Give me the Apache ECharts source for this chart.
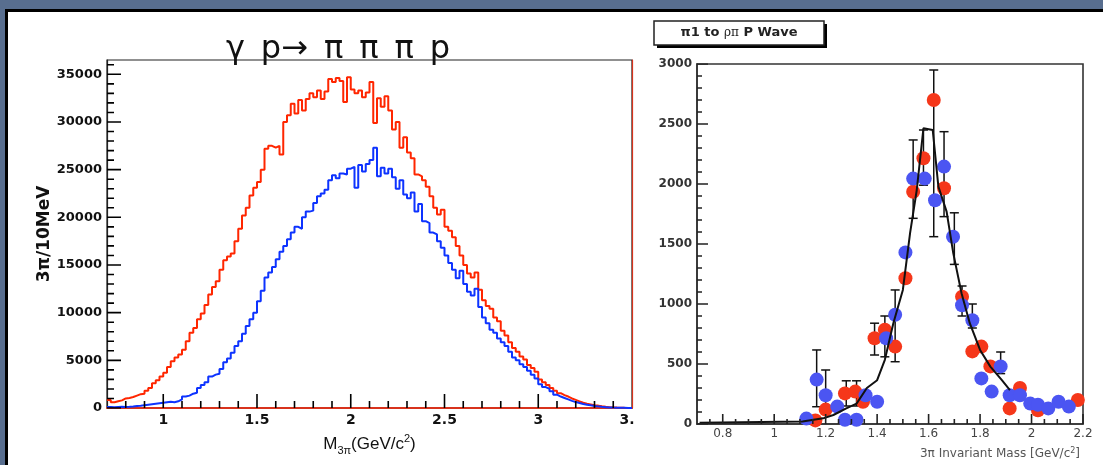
<!doctype html>
<html>
<head>
<meta charset="utf-8">
<title>gamma p -> 3pi p</title>
<script type="text/javascript" src="https://cdn.jsdelivr.net/npm/echarts@6/dist/echarts.min.js"></script>
<style>
    html, body { margin: 0; padding: 0; }
    body { width: 1103px; height: 465px; background: #586e8f; position: relative; overflow: hidden; }
    #panel { position: absolute; left: 5px; top: 9px; right: 0; bottom: 0; background: #fff;
             border-left: 3px solid #000; border-top: 3px solid #000; }
    #container { position: absolute; left: 0; top: 0; width: 1103px; height: 465px; }
</style>
</head>
<body>
<div id="panel"></div>
<div id="container"></div>
<script type="text/javascript">

    /* left: 3pi mass spectrum, 20 MeV bins starting at 0.70 */
    var binStart = 0.70;
    var binWidth = 0.02;
    var redCounts = [
        850, 600, 700, 800, 1000, 1050, 1150, 1300, 1450, 1500,
        1800, 2100, 2600, 2900, 3300, 3700, 4300, 4900, 5300, 5600,
        6100, 7000, 7900, 8400, 9300, 9900, 10800, 11900, 12700, 13300,
        14500, 15500, 15900, 16200, 17500, 18800, 20200, 21000, 22300, 23100,
        23700, 25000, 27200, 27500, 27300, 27500, 26600, 30000, 30700, 31900,
        30900, 32300, 31200, 32400, 33000, 32600, 33300, 32400, 33200, 34500,
        34200, 34600, 34300, 32100, 34700, 33400, 33000, 33300, 32600, 33100,
        34200, 29900, 32500, 31600, 32700, 31200, 29200, 30000, 27300, 28400,
        26800, 26200, 24500, 24300, 23900, 23200, 22200, 21000, 20300, 20800,
        19000, 18600, 17900, 17000, 16000, 15000, 14100, 13700, 14200, 12400,
        11300, 10700, 10400, 9500, 9100, 8100, 7600, 6900, 6300, 5900,
        5400, 5100, 4500, 4200, 3800, 3000, 2700, 2400, 2100, 1800,
        1550, 1350, 1200, 1000, 850, 700, 550, 450, 380, 300,
        250, 180, 120, 90, 60, 40, 25, 15, 10, 5
    ];
    var blueCounts = [
        100, 80, 100, 120, 100, 120, 150, 200, 230, 300,
        350, 400, 450, 500, 550, 600, 650, 600, 700, 900,
        1200, 1300, 1500, 1600, 2100, 2400, 2700, 3300, 3500, 3600,
        4100, 4800, 5200, 5800, 6500, 7000, 7800, 8600, 9300, 10000,
        11200, 12300, 13700, 14200, 14800, 15600, 16400, 17000, 17700, 18400,
        19000, 18800, 20000, 20600, 20700, 21500, 22200, 22500, 22900, 23900,
        24400, 24100, 24600, 24500, 25100, 25300, 23100, 25500, 24800, 25600,
        26000, 27300, 24300, 25200, 24600, 25100, 24200, 23000, 23900, 22400,
        22000, 22600, 20600, 21400, 19600, 19400, 18400, 18200, 17500, 16800,
        16000, 15200, 14500, 13600, 14400, 13000, 12200, 11800, 12500, 10600,
        9500, 8900, 8200, 7900, 7300, 6900, 6500, 5900, 5300, 5000,
        4600, 4300, 3900, 3500, 3100, 2500, 2200, 2000, 1750, 1400,
        1200, 1050, 900, 750, 620, 520, 420, 350, 280, 220,
        170, 120, 90, 60, 40, 30, 20, 15, 10, 5
    ];
    var massLabels = [1, 1.5, 2, 2.5, 3, 3.5];
    var massMajor = [1, 1.5, 2, 2.5, 3];
    var massMinor = [0.8, 0.9, 1.1, 1.2, 1.3, 1.4, 1.6, 1.7, 1.8, 1.9, 2.1, 2.2, 2.3, 2.4,
                     2.6, 2.7, 2.8, 2.9, 3.1, 3.2, 3.3, 3.4];
    var countLabels = [0, 5000, 10000, 15000, 20000, 25000, 30000, 35000];
    var countMinor = [];
    for (var c = 1000; c <= 36000; c += 1000) { if (c % 5000) countMinor.push(c); }

    /* right: pi1 -> rho pi P wave */
    var redPts = [
        [1.16, 30], [1.20, 120], [1.275, 255], [1.315, 270], [1.345, 185], [1.39, 715],
        [1.43, 785], [1.47, 645], [1.51, 1215], [1.54, 1935], [1.58, 2215], [1.62, 2700],
        [1.66, 1965], [1.73, 1060], [1.77, 605], [1.805, 645], [1.84, 480], [1.915, 130],
        [1.955, 300], [2.025, 115], [2.18, 200]
    ];
    var bluePts = [
        [1.125, 45], [1.165, 370], [1.20, 240], [1.245, 145], [1.275, 35], [1.32, 35],
        [1.355, 240], [1.40, 185], [1.435, 715], [1.47, 910], [1.51, 1430], [1.54, 2045],
        [1.585, 2045], [1.625, 1865], [1.66, 2145], [1.695, 1560], [1.73, 990], [1.77, 865],
        [1.805, 380], [1.845, 270], [1.88, 480], [1.915, 240], [1.955, 240], [1.995, 170],
        [2.025, 160], [2.065, 130], [2.105, 185], [2.145, 145]
    ];
    var errBars = [
        [1.165, 144, 617], [1.20, 100, 450], [1.28, 150, 360], [1.32, 150, 360],
        [1.39, 575, 840], [1.43, 560, 900], [1.47, 519, 1117], [1.54, 1714, 2367],
        [1.58, 1990, 2450], [1.62, 1561, 2950], [1.66, 1728, 2436], [1.70, 1330, 1760],
        [1.73, 900, 1150], [1.77, 800, 1000], [1.88, 420, 600]
    ];
    var fitCurve = [
        [0.71, 10], [1.11, 20], [1.19, 47], [1.23, 75], [1.28, 130], [1.32, 170],
        [1.36, 300], [1.40, 365], [1.43, 535], [1.463, 840], [1.50, 1117], [1.528, 1590],
        [1.554, 1950], [1.58, 2465], [1.616, 2450], [1.638, 1978], [1.67, 1770], [1.696, 1422],
        [1.728, 1090], [1.76, 840], [1.80, 617], [1.84, 478], [1.884, 367], [1.916, 283]
    ];
    var waveLabels = [0.8, 1, 1.2, 1.4, 1.6, 1.8, 2, 2.2];
    var waveMinor = [0.75, 0.85, 0.9, 0.95, 1.05, 1.1, 1.15, 1.25, 1.3, 1.35, 1.45, 1.5, 1.55,
                     1.65, 1.7, 1.75, 1.85, 1.9, 1.95, 2.05, 2.1, 2.15];
    var yieldLabels = [0, 500, 1000, 1500, 2000, 2500, 3000];
    var yieldMinor = [];
    for (var d = 100; d < 3000; d += 100) { if (d % 500) yieldMinor.push(d); }

    function histPoints(counts) {
        var pts = [];
        for (var i = 0; i < counts.length; i++) {
            pts.push([+(binStart + i * binWidth).toFixed(2), counts[i]]);
        }
        pts.push([+(binStart + counts.length * binWidth).toFixed(2), counts[counts.length - 1]]);
        return pts;
    }

    var dom = document.getElementById("container");
    var myChart = echarts.init(dom, null, {renderer: 'canvas'});

    var lblFont = 'DejaVu Sans';
    var plain = function (v) { return String(v); };

    // grid sizes in px, used to turn tick lengths into axis units
    var leftGrid = {left: 107, top: 60, width: 525, height: 348};
    var rightGrid = {left: 697, top: 64, width: 386, height: 360};
    var leftPxX = (3.5 - 0.7) / leftGrid.width, leftPxY = 36500 / leftGrid.height;
    var rightPxX = (2.2 - 0.7) / rightGrid.width, rightPxY = 3000 / rightGrid.height;

    function errItem(params, api) {
        var top = api.coord([api.value(0), api.value(2)]);
        var bot = api.coord([api.value(0), api.value(1)]);
        var st = {stroke: '#111', lineWidth: 1.5};
        return {
            type: 'group',
            children: [
                {type: 'line', shape: {x1: top[0], y1: top[1], x2: bot[0], y2: bot[1]}, style: st},
                {type: 'line', shape: {x1: top[0] - 4.5, y1: top[1], x2: top[0] + 4.5, y2: top[1]}, style: st},
                {type: 'line', shape: {x1: bot[0] - 4.5, y1: bot[1], x2: bot[0] + 4.5, y2: bot[1]}, style: st}
            ]
        };
    }

    // inward ROOT-style ticks as broken line segments on the axes' own scales
    function tickSeries(xi, yi, dim, values, other, len, color) {
        var pts = [];
        values.forEach(function (v) {
            if (dim === 'x') {
                pts.push([v, other], [v, other + len]);
            } else {
                pts.push([other, v], [other + len, v]);
            }
            pts.push(['-', '-']);
        });
        return {
            type: 'line', xAxisIndex: xi, yAxisIndex: yi, data: pts,
            symbol: 'none', silent: true, z: 5, connectNulls: false,
            lineStyle: {color: color, width: 1.6}
        };
    }

    var option = {
        animation: false,
        backgroundColor: 'transparent',
        grid: [
            {left: leftGrid.left, top: leftGrid.top, width: leftGrid.width, height: leftGrid.height,
             show: true, borderColor: '#222', borderWidth: 1.2, backgroundColor: 'transparent'},
            {left: rightGrid.left, top: rightGrid.top, width: rightGrid.width, height: rightGrid.height,
             show: true, borderColor: '#333', borderWidth: 1.6, backgroundColor: 'transparent'}
        ],
        xAxis: [
            {
                gridIndex: 0, type: 'value', min: 0.7, max: 3.5, position: 'bottom',
                axisLine: {show: true, lineStyle: {color: '#d8321c', width: 2}},
                axisTick: {show: false},
                axisLabel: {customValues: massLabels, formatter: plain, margin: 5, fontFamily: lblFont, fontWeight: 'bold', fontSize: 14, color: '#111'},
                splitLine: {show: false},
                name: '{a|M}{s|3π}{a|(GeV/c}{p|2}{a|)}',
                nameLocation: 'middle', nameGap: 25,
                nameTextStyle: {
                    rich: {
                        a: {fontFamily: 'Liberation Sans', fontSize: 17, color: '#111'},
                        s: {fontFamily: 'Liberation Sans', fontSize: 11, color: '#111', verticalAlign: 'bottom', padding: [12, 0, 0, 0]},
                        p: {fontFamily: 'Liberation Sans', fontSize: 11, color: '#111', verticalAlign: 'top', padding: [0, 0, 10, 0]}
                    }
                }
            },
            {
                gridIndex: 1, type: 'value', min: 0.7, max: 2.2, position: 'bottom',
                axisLine: {show: true, lineStyle: {color: '#333', width: 1.6}},
                axisTick: {show: false},
                axisLabel: {customValues: waveLabels, formatter: plain, margin: 4, fontFamily: lblFont, fontSize: 12, color: '#444'},
                splitLine: {show: false}
            }
        ],
        yAxis: [
            {
                gridIndex: 0, type: 'value', min: 0, max: 36500, position: 'left',
                axisLine: {show: true, lineStyle: {color: '#222', width: 1.2}},
                axisTick: {show: false},
                axisLabel: {customValues: countLabels, formatter: plain, margin: 5, fontFamily: lblFont, fontWeight: 'bold', fontSize: 13, color: '#111'},
                splitLine: {show: false},
                name: '3π/10MeV', nameLocation: 'middle', nameRotate: 90, nameGap: 50,
                nameTextStyle: {fontFamily: lblFont, fontWeight: 'bold', fontSize: 17, color: '#111'}
            },
            {
                gridIndex: 0, type: 'value', min: 0, max: 36500, position: 'right',
                axisLine: {show: true, lineStyle: {color: '#d8321c', width: 1.2}},
                axisTick: {show: false}, axisLabel: {show: false}, splitLine: {show: false}
            },
            {
                gridIndex: 1, type: 'value', min: 0, max: 3000, position: 'left',
                axisLine: {show: true, lineStyle: {color: '#333', width: 1.6}},
                axisTick: {show: false},
                axisLabel: {customValues: yieldLabels, formatter: plain, margin: 5, fontFamily: lblFont, fontWeight: 'bold', fontSize: 12, color: '#333'},
                splitLine: {show: false}
            }
        ],
        graphic: [
            {
                type: 'text', x: 338, y: 50, z: 10,
                style: {text: 'γ\u2002p→\u2002π\u2002π\u2002π\u2002p', font: '32px "DejaVu Sans"', fill: '#111', align: 'center', verticalAlign: 'middle'}
            },
            {
                type: 'rect', x: 635, y: 412, z: 10, shape: {width: 16, height: 20}, style: {fill: '#fff'}
            },
            {
                type: 'rect', x: 657, y: 24, z: 10, shape: {width: 170, height: 24}, style: {fill: '#000'}
            },
            {
                type: 'rect', x: 654, y: 21, z: 11, shape: {width: 170, height: 24}, style: {fill: '#fff', stroke: '#222', lineWidth: 1.5}
            },
            {
                type: 'text', x: 739, y: 33, z: 12,
                style: {
                    text: '{b|π1 to }{s|ρπ}{b| P Wave}', align: 'center', verticalAlign: 'middle',
                    rich: {
                        b: {fontFamily: lblFont, fontWeight: 'bold', fontSize: 13, fill: '#222'},
                        s: {fontFamily: 'DejaVu Serif', fontSize: 12, fill: '#222'}
                    }
                }
            },
            {
                type: 'text', x: 1080, y: 454, z: 10,
                style: {
                    text: '{a|3π Invariant Mass [GeV/c}{p|2}{a|]}', align: 'right', verticalAlign: 'middle',
                    rich: {
                        a: {fontFamily: lblFont, fontSize: 12, fill: '#555'},
                        p: {fontFamily: lblFont, fontSize: 8, fill: '#555', verticalAlign: 'top', padding: [0, 0, 6, 0]}
                    }
                }
            }
        ],
        series: [
            {
                name: 'all', type: 'line', step: 'end', xAxisIndex: 0, yAxisIndex: 0,
                data: histPoints(redCounts), symbol: 'none',
                lineStyle: {color: '#ff2600', width: 2}
            },
            {
                name: 'cut', type: 'line', step: 'end', xAxisIndex: 0, yAxisIndex: 0,
                data: histPoints(blueCounts), symbol: 'none',
                lineStyle: {color: '#0d33ff', width: 2}
            },
            tickSeries(0, 0, 'x', massMajor, 0, 14 * leftPxY, '#000'),
            tickSeries(0, 0, 'x', massMinor, 0, 7 * leftPxY, '#000'),
            tickSeries(0, 0, 'y', countLabels, 0.7, 14 * leftPxX, '#000'),
            tickSeries(0, 0, 'y', countMinor, 0.7, 7 * leftPxX, '#000'),
            tickSeries(1, 2, 'x', waveLabels, 0, 10 * rightPxY, '#222'),
            tickSeries(1, 2, 'x', waveMinor, 0, 5 * rightPxY, '#222'),
            tickSeries(1, 2, 'y', yieldLabels, 0.7, 11 * rightPxX, '#222'),
            tickSeries(1, 2, 'y', yieldMinor, 0.7, 5 * rightPxX, '#222'),
            {
                name: 'fit', type: 'line', xAxisIndex: 1, yAxisIndex: 2,
                data: fitCurve, symbol: 'none',
                lineStyle: {color: '#111', width: 2}
            },
            {
                name: 'errors', type: 'custom', xAxisIndex: 1, yAxisIndex: 2,
                data: errBars, renderItem: errItem,
                encode: {x: 0, y: [1, 2]}
            },
            {
                name: 'red', type: 'scatter', xAxisIndex: 1, yAxisIndex: 2,
                data: redPts, symbolSize: 14,
                itemStyle: {color: '#f5371a', opacity: 1}
            },
            {
                name: 'blue', type: 'scatter', xAxisIndex: 1, yAxisIndex: 2,
                data: bluePts, symbolSize: 14,
                itemStyle: {color: '#4b55f2', opacity: 1}
            }
        ]
    };

    if (option && typeof option === "object") {
        myChart.setOption(option, true);
    }
</script>
</body>
</html>
